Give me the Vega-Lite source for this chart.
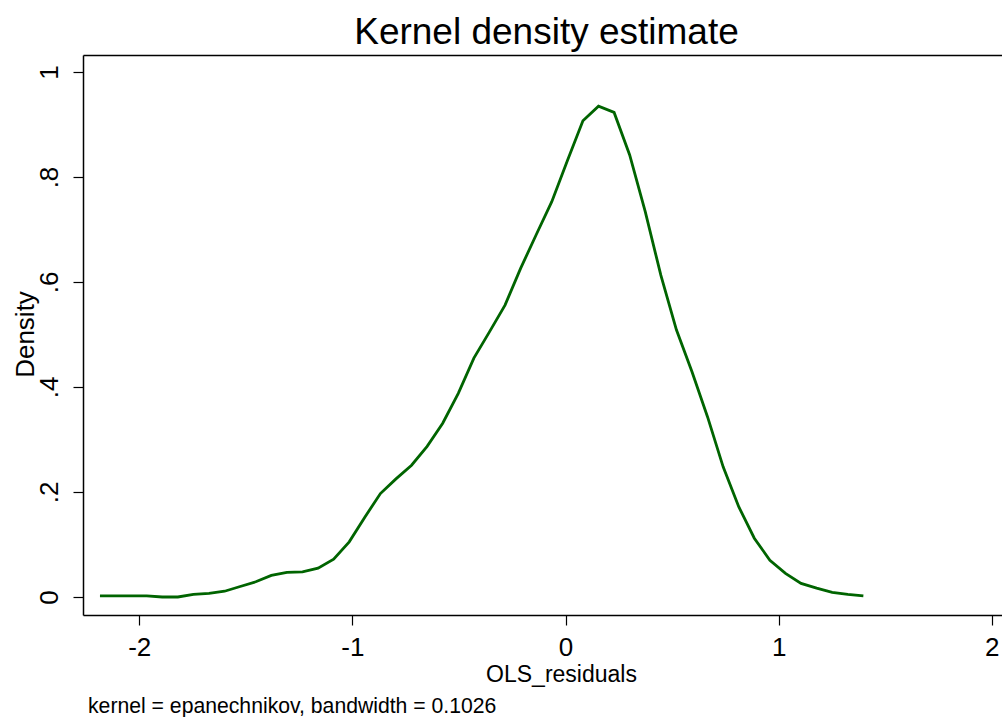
{
  "$schema": "https://vega.github.io/schema/vega-lite/v6.json",
  "width": 919,
  "height": 560,
  "autosize": {"type": "none"},
  "padding": {"left": 83, "top": 55, "right": 0, "bottom": 102},
  "background": "white",
  "config": {
    "view": {"stroke": null},
    "font": "Liberation Sans",
    "axis": {
      "grid": false,
      "domainColor": "#000000",
      "tickColor": "#000000",
      "labelColor": "#000000",
      "titleColor": "#000000",
      "titleFontWeight": "normal",
      "labelFont": "Liberation Sans",
      "titleFont": "Liberation Sans",
      "domainWidth": 1.5,
      "tickWidth": 1.2
    }
  },
  "title": {
    "text": "kernel = epanechnikov, bandwidth = 0.1026",
    "orient": "bottom",
    "anchor": "start",
    "frame": "group",
    "fontSize": 21.2,
    "fontWeight": "normal",
    "font": "Liberation Sans",
    "color": "#000000",
    "baseline": "alphabetic",
    "offset": 27,
    "dx": 5
  },
  "data": {
    "values": [
      {"x": -2.1844, "density": 0.002},
      {"x": -2.1113, "density": 0.002},
      {"x": -2.0382, "density": 0.002},
      {"x": -1.9651, "density": 0.002},
      {"x": -1.892, "density": 0.0},
      {"x": -1.8189, "density": 0.0},
      {"x": -1.7458, "density": 0.005},
      {"x": -1.6727, "density": 0.007},
      {"x": -1.5996, "density": 0.011},
      {"x": -1.5265, "density": 0.02},
      {"x": -1.4534, "density": 0.029},
      {"x": -1.3803, "density": 0.041},
      {"x": -1.3072, "density": 0.047},
      {"x": -1.2341, "density": 0.048},
      {"x": -1.161, "density": 0.055},
      {"x": -1.0879, "density": 0.072},
      {"x": -1.0148, "density": 0.105},
      {"x": -0.9417, "density": 0.152},
      {"x": -0.8686, "density": 0.197},
      {"x": -0.7955, "density": 0.225},
      {"x": -0.7224, "density": 0.251},
      {"x": -0.6493, "density": 0.287},
      {"x": -0.5762, "density": 0.331},
      {"x": -0.5031, "density": 0.388},
      {"x": -0.43, "density": 0.455},
      {"x": -0.3569, "density": 0.505},
      {"x": -0.2838, "density": 0.556},
      {"x": -0.2107, "density": 0.626},
      {"x": -0.1376, "density": 0.69},
      {"x": -0.0645, "density": 0.753},
      {"x": 0.0086, "density": 0.831},
      {"x": 0.0817, "density": 0.907},
      {"x": 0.1548, "density": 0.935},
      {"x": 0.2279, "density": 0.923},
      {"x": 0.301, "density": 0.842},
      {"x": 0.3741, "density": 0.734},
      {"x": 0.4472, "density": 0.613},
      {"x": 0.5203, "density": 0.509},
      {"x": 0.5934, "density": 0.429},
      {"x": 0.6665, "density": 0.343},
      {"x": 0.7396, "density": 0.248},
      {"x": 0.8127, "density": 0.172},
      {"x": 0.8858, "density": 0.112},
      {"x": 0.9589, "density": 0.07},
      {"x": 1.032, "density": 0.045},
      {"x": 1.1051, "density": 0.026},
      {"x": 1.1782, "density": 0.017},
      {"x": 1.2513, "density": 0.009},
      {"x": 1.3244, "density": 0.005},
      {"x": 1.3975, "density": 0.002}
    ]
  },
  "layer": [
    {
      "mark": {"type": "line", "color": "#006400", "strokeWidth": 2.8},
      "encoding": {
        "x": {
          "field": "x",
          "type": "quantitative",
          "scale": {"domain": [-2.264, 2.048], "nice": false, "zero": false},
          "axis": {
            "orient": "bottom",
            "values": [-2, -1, 0, 1, 2],
            "labelExpr": "datum.value < 0 ? '-' + format(-datum.value, 'd') : format(datum.value, 'd')",
            "tickSize": 10,
            "labelFontSize": 26,
            "labelBaseline": "alphabetic",
            "labelPadding": 30,
            "labelFlush": false,
            "labelOverlap": false,
            "title": "OLS_residuals",
            "titleFontSize": 23,
            "titleBaseline": "alphabetic",
            "titleY": 66,
            "titleX": 478
          }
        },
        "y": {
          "field": "density",
          "type": "quantitative",
          "scale": {"domain": [-0.0343, 1.0324], "nice": false, "zero": false},
          "axis": {
            "values": [0, 0.2, 0.4, 0.6, 0.8, 1],
            "labelExpr": "datum.value == 0 ? '0' : datum.value == 1 ? '1' : replace(format(datum.value, '.1f'), '0.', '.')",
            "tickSize": 10,
            "labelFontSize": 26,
            "labelAngle": -90,
            "labelAlign": "center",
            "labelBaseline": "alphabetic",
            "labelPadding": 16,
            "labelOverlap": false,
            "labelFlush": false,
            "title": "Density",
            "titleFontSize": 26,
            "titleAngle": -90,
            "titleAlign": "center",
            "titleBaseline": "alphabetic",
            "titleX": -50,
            "titleY": 279
          }
        }
      }
    },
    {
      "mark": {"type": "line", "strokeOpacity": 0},
      "encoding": {
        "x": {
          "field": "x",
          "type": "quantitative",
          "scale": {"domain": [-2.264, 2.048], "nice": false, "zero": false},
          "axis": {
            "orient": "top",
            "labels": false,
            "ticks": false,
            "title": "Kernel density estimate",
            "titleFontSize": 37,
            "titleBaseline": "alphabetic",
            "titleAlign": "center",
            "titleY": -12,
            "titleX": 463
          }
        },
        "y": {
          "field": "density",
          "type": "quantitative",
          "scale": {"domain": [-0.0343, 1.0324], "nice": false, "zero": false},
          "axis": null
        }
      }
    }
  ],
  "resolve": {"axis": {"x": "independent", "y": "independent"}}
}
